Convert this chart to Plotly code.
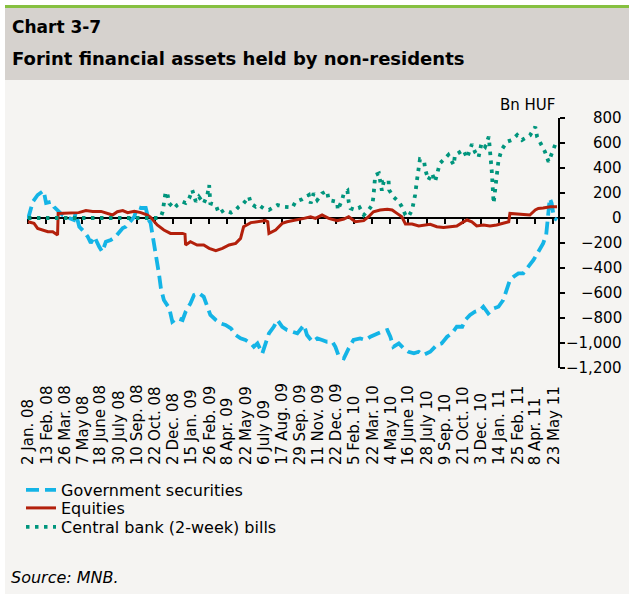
import plotly.graph_objects as go

# ---------------- data (business-day index since 2 Jan 2008, bn HUF) ----------------
tick_labels = ["2 Jan. 08", "13 Feb. 08", "26 Mar. 08", "7 May 08", "18 June 08", "30 July 08",
               "10 Sep. 08", "22 Oct. 08", "2 Dec. 08", "15 Jan. 09", "26 Feb. 09", "8 Apr. 09",
               "22 May 09", "6 July 09", "17 Aug. 09", "29 Sep. 09", "11 Nov. 09", "22 Dec. 09",
               "5 Feb. 10", "22 Mar. 10", "4 May 10", "16 June 10", "28 July 10", "9 Sep. 10",
               "21 Oct. 10", "3 Dec. 10", "14 Jan. 11", "25 Feb. 11", "8 Apr. 11", "23 May 11"]
tick_days = [30 * k for k in range(len(tick_labels))]

gov_days = [0, 8, 16, 26, 30, 38, 43, 49, 58, 68, 76, 79, 85, 93, 99, 104, 110, 118, 123, 129,
            137, 145, 151, 157, 162, 167, 176, 181, 187, 195, 200, 203, 208, 211, 217, 220, 225,
            234, 239, 247, 256, 261, 269, 275, 283, 291, 297, 302, 311, 319, 327, 336, 344, 352,
            360, 369, 374, 380, 388, 393, 399, 407, 413, 421, 429, 438, 446, 457, 462, 471, 479,
            487, 495, 504, 509, 515, 523, 531, 539, 550, 559, 567, 578, 586, 595, 600, 605, 614,
            622, 630, 639, 647, 655, 666, 677, 685, 694, 702, 710, 719, 724, 732, 740, 749, 754,
            762, 771, 779, 787, 793, 798, 804, 812, 820, 828, 837, 845, 853, 858, 862, 864, 867,
            871, 876]
gov_vals = [-10, 130, 184, 218, 120, 130, 90, 64, 20, 0, -16, 40, -70, -110, -150, -200, -150, -230,
            -270, -190, -176, -150, -110, -80, -70, -40, 10, 90, 80, 80, -16, -40, -176, -270, -450,
            -560, -656, -722, -830, -800, -816, -750, -683, -616, -600, -630, -710, -776, -816, -843,
            -856, -883, -936, -963, -976, -1003, -1030, -1003, -1083, -1003, -923, -870, -816, -870,
            -896, -910, -923, -856, -936, -990, -963, -976, -990, -990, -1030, -1110, -1123, -1043,
            -976, -963, -976, -950, -923, -910, -896, -950, -1030, -1003, -1043, -1070, -1083, -1070,
            -1096, -1070, -1016, -1003, -950, -923, -870, -870, -816, -776, -750, -736, -710, -763,
            -723, -710, -656, -576, -496, -470, -443, -443, -390, -336, -270, -203, -136, 64, 157, 120,
            0, -16]

eq_days = [0, 10, 16, 24, 33, 41, 49, 50, 60, 71, 84, 96, 107, 121, 132, 140, 148, 157, 165, 176,
           187, 198, 203, 214, 225, 236, 247, 256, 260, 261, 269, 280, 291, 300, 311, 322, 333, 344,
           352, 357, 369, 380, 393, 397, 399, 410, 421, 429, 446, 457, 468, 476, 487, 498, 512, 523,
           531, 542, 556, 564, 572, 583, 595, 603, 611, 619, 625, 636, 647, 655, 666, 677, 688, 699,
           710, 719, 727, 735, 743, 754, 765, 776, 787, 796, 798, 810, 820, 831, 840, 845, 853, 865,
           876]
eq_vals = [-30, -43, -83, -96, -110, -110, -136, 37, 37, 43, 43, 59, 53, 53, 37, 24, 50, 59, 43, 53,
           43, 24, 5, -56, -96, -123, -123, -123, -130, -216, -190, -216, -216, -243, -262, -243, -216,
           -203, -163, -70, -37, -30, -21, -30, -123, -96, -43, -30, -16, -3, 10, -3, 24, -3, -21, -8,
           10, -30, -21, 10, 50, 64, 69, 64, 37, 10, -48, -48, -64, -56, -50, -70, -75, -70, -64, -37,
           -16, -30, -64, -56, -64, -56, -43, -30, 37, 32, 24, 24, 64, 77, 80, 90, 90]

cb_days = [0, 50, 100, 150, 200, 215, 220, 223, 228, 231, 234, 242, 247, 256, 261, 267, 272, 278,
           283, 291, 297, 300, 302, 311, 316, 325, 336, 344, 349, 357, 366, 369, 377, 382, 390, 399,
           413, 424, 438, 443, 454, 465, 468, 473, 479, 487, 495, 498, 512, 513, 520, 523, 529, 531,
           534, 542, 549, 556, 564, 570, 572, 575, 581, 583, 586, 589, 597, 598, 605, 614, 619, 625,
           630, 636, 641, 644, 649, 653, 656, 658, 663, 669, 674, 682, 688, 696, 705, 707, 716, 721,
           727, 735, 740, 746, 751, 757, 763, 766, 768, 771, 774, 776, 779, 784, 793, 801, 810, 818,
           826, 831, 840, 843, 851, 856, 862, 867, 873, 876]
cb_vals = [0, 0, 0, 0, 0, 0, 10, 50, 210, 190, 117, 77, 104, 130, 120, 157, 224, 130, 170, 117, 184,
           264, 117, 104, 37, 64, 43, 64, 90, 117, 170, 117, 90, 104, 77, 64, 104, 90, 85, 130, 150,
           184, 117, 197, 144, 197, 216, 144, 130, 64, 144, 197, 218, 130, 77, 64, 85, 24, 64, 104,
           170, 344, 357, 277, 218, 290, 304, 224, 170, 130, 90, 24, 10, 64, 184, 300, 470, 464, 450,
           384, 304, 357, 290, 437, 464, 504, 424, 504, 530, 544, 480, 590, 530, 485, 600, 570, 650,
           490, 370, 117, 250, 360, 457, 544, 610, 624, 664, 624, 650, 660, 730, 650, 577, 530, 450,
           510, 570, 624]

y_ticks = list(range(-1200, 801, 200))
y_tick_labels = [f"{v:,}".replace("-", "\u2212") for v in y_ticks]

# ---------------- styling ----------------
FONT = "DejaVu Sans"
BLUE = "#14b4e6"
RED = "#b3200c"
GREEN = "#00957d"
PANEL = "#f5f4f2"
HEADER = "#d6d2ce"

W, H = 629, 594
ML, MR, MT, MB = 27, 71, 118, 226
PW, PH = W - ML - MR, H - MT - MB


def px_x(px):
    return (px - ML) / PW


def px_y(py):
    return (H - MB - py) / PH


fig = go.Figure()
fig.add_trace(go.Scatter(x=gov_days, y=gov_vals, mode="lines", name="Government securities",
                         line=dict(color=BLUE, width=3.8, dash="13px,6px"), legend="legend"))
fig.add_trace(go.Scatter(x=eq_days, y=eq_vals, mode="lines", name="Equities",
                         line=dict(color=RED, width=3), legend="legend2"))
fig.add_trace(go.Scatter(x=cb_days, y=cb_vals, mode="lines", name="Central bank (2-week) bills",
                         line=dict(color=GREEN, width=3.8, dash="3.5px,5.5px"), legend="legend3"))

annotations = []
for d, lab in zip(tick_days, tick_labels):
    annotations.append(dict(x=d, xref="x", y=px_y(467), yref="paper", text=lab, textangle=-90,
                            xanchor="center", yanchor="bottom", showarrow=False,
                            font=dict(family=FONT, size=15, color="black")))
for v, lab in zip(y_ticks, y_tick_labels):
    annotations.append(dict(x=px_x(624), xref="paper", y=v, yref="y", text=lab,
                            xanchor="right", yanchor="middle", showarrow=False,
                            font=dict(family=FONT, size=15, color="black")))
annotations += [
    dict(x=px_x(10), y=px_y(27), xref="paper", yref="paper", text="<b>Chart 3-7</b>",
         xanchor="left", yanchor="middle", showarrow=False,
         font=dict(family=FONT, size=17, color="black")),
    dict(x=px_x(10), y=px_y(58), xref="paper", yref="paper",
         text="<b>Forint financial assets held by non-residents</b>",
         xanchor="left", yanchor="middle", showarrow=False,
         font=dict(family=FONT, size=18, color="black")),
    dict(x=px_x(557), y=px_y(105), xref="paper", yref="paper", text="Bn HUF",
         xanchor="right", yanchor="middle", showarrow=False,
         font=dict(family=FONT, size=15, color="black")),
    dict(x=px_x(9), y=px_y(577), xref="paper", yref="paper", text="<i>Source: MNB.</i>",
         xanchor="left", yanchor="middle", showarrow=False,
         font=dict(family=FONT, size=16, color="black")),
]

shapes = [
    dict(type="rect", xref="paper", yref="paper", x0=px_x(0), x1=px_x(5), y0=px_y(H), y1=px_y(0),
         fillcolor="white", line=dict(width=0), layer="below"),
    dict(type="rect", xref="paper", yref="paper", x0=px_x(0), x1=px_x(W), y0=px_y(5), y1=px_y(0),
         fillcolor="white", line=dict(width=0), layer="below"),
    dict(type="rect", xref="paper", yref="paper", x0=px_x(5), x1=px_x(W), y0=px_y(8), y1=px_y(5),
         fillcolor="#86c040", line=dict(width=0), layer="below"),
    dict(type="rect", xref="paper", yref="paper", x0=px_x(5), x1=px_x(W), y0=px_y(80), y1=px_y(8),
         fillcolor=HEADER, line=dict(width=0), layer="below"),
]

leg_common = dict(x=px_x(21), xanchor="left", yanchor="middle", bgcolor="rgba(0,0,0,0)",
                  font=dict(family=FONT, size=16, color="black"), borderwidth=0)

fig.update_layout(
    width=W, height=H,
    margin=dict(l=ML, r=MR, t=MT, b=MB, pad=0),
    paper_bgcolor=PANEL, plot_bgcolor=PANEL,
    font=dict(family=FONT, color="black"),
    showlegend=True,
    legend=dict(y=px_y(490), **leg_common),
    legend2=dict(y=px_y(508), **leg_common),
    legend3=dict(y=px_y(527), **leg_common),
    xaxis=dict(range=[-1.6, 877.6], anchor="free", position=0.6,
               showline=True, linecolor="black", linewidth=2, ticks="outside", ticklen=5,
               tickwidth=2, tickcolor="black", tickvals=tick_days, showticklabels=False,
               showgrid=False, zeroline=False, layer="below traces"),
    yaxis=dict(range=[-1200, 800], side="right", anchor="x", showline=True, linecolor="black",
               linewidth=2, ticks="outside", ticklen=5, tickwidth=2, tickcolor="black",
               tickvals=y_ticks, showticklabels=False, showgrid=False, zeroline=False,
               layer="below traces"),
    annotations=annotations,
    shapes=shapes,
)

fig.write_html("out.html", config={"displayModeBar": False},
               post_script="document.body.style.margin='0px';")
